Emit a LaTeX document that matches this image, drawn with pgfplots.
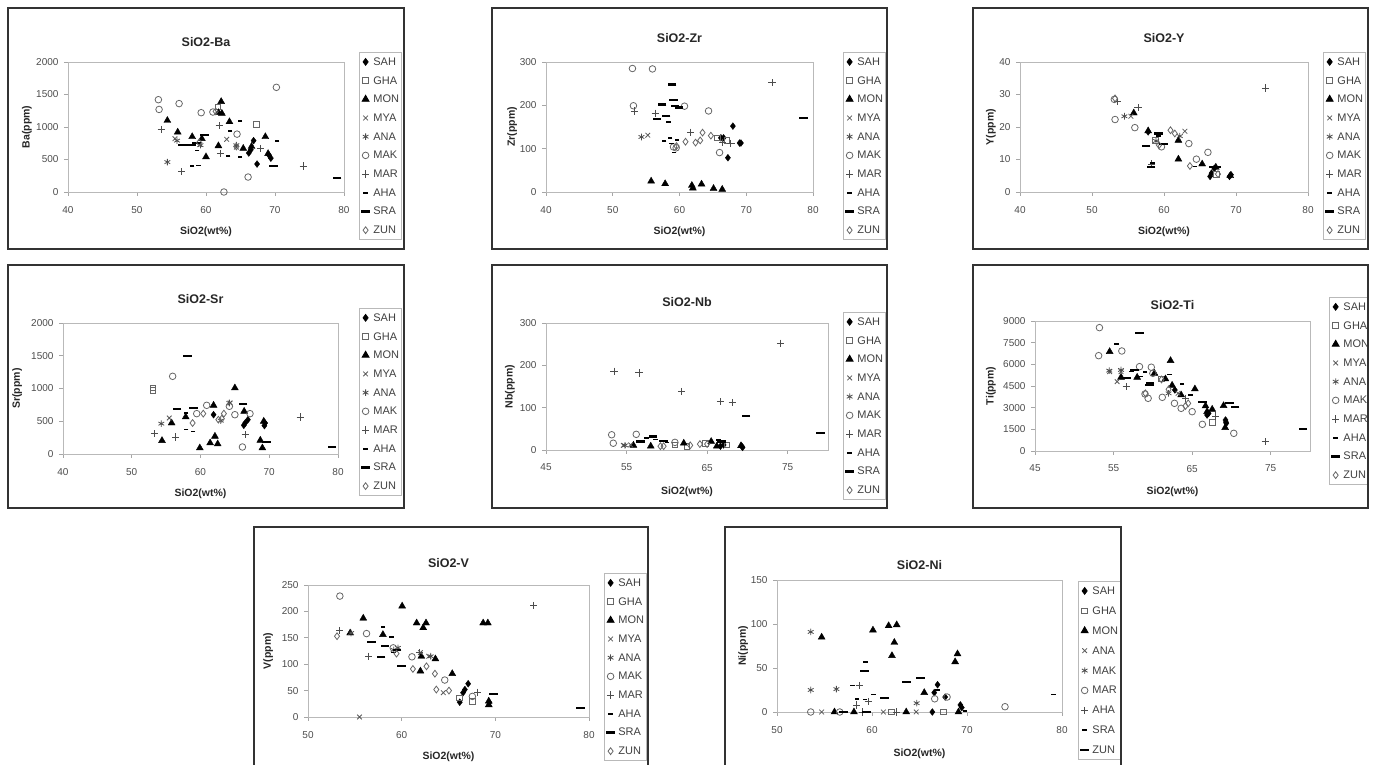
\documentclass[border=0pt]{standalone}
\usepackage{pgfplots}
\pgfplotsset{compat=1.18}
\usepackage{fontspec}
\setmainfont{Liberation Sans}

\pgfplotsset{
 panel/.style={
  scale only axis, anchor=south west,
  axis line style={gray!55,line width=0.8pt},
  every tick/.style={gray!70,line width=0.8pt},
  tick align=outside, major tick length=4pt, tick pos=left,
  ticklabel style={font=\fontsize{10}{11}\selectfont, text=black!70},
  xticklabel style={yshift=-6.5pt}, yticklabel style={xshift=-2pt},
  /pgf/number format/assume math mode=true,
  /pgf/number format/set thousands separator={},
  scaled ticks=false,
  title style={font=\bfseries\fontsize{12.5}{14}\selectfont, text=black!85, at={(axis description cs:0.5,1)}, anchor=center},
  label style={font=\bfseries\fontsize{10.5}{12}\selectfont, text=black!85},
  xlabel={SiO2(wt\%)},
  xlabel style={at={(axis description cs:0.5,0)}, anchor=center},
  clip mode=individual,
  legend cell align=left,
  legend style={anchor=north west, draw=gray!55, line width=0.8pt, fill=white,
    font=\fontsize{11}{12}\selectfont, text=black!75, inner xsep=2pt, inner ysep=2.5pt,
    row sep=4.7pt, nodes={inner sep=0.5pt, text height=10pt, text depth=3pt},
    /tikz/every odd column/.append style={column sep=3pt}},
 },
 mk/.style={only marks, legend image code/.code={\draw[mark repeat=2,mark phase=2,##1] plot coordinates {(0pt,0pt)(4pt,0pt)(8pt,0pt)};}},
 sah/.style={mk, mark=diamond*, mark size=3.4pt, color=black, fill=black},
 gha/.style={mk, mark=square, mark size=2.8pt, color=black!60, line width=0.8pt},
 mon/.style={mk, mark=triangle*, mark size=4pt, color=black, fill=black},
 mya/.style={mk, mark=x, mark size=3.3pt, color=black!65, line width=0.8pt},
 ana/.style={mk, mark=asterisk, mark size=3.3pt, color=black!70, line width=0.8pt},
 mak/.style={mk, mark=o, mark size=3.3pt, color=black!60, line width=0.8pt},
 mar/.style={mk, mark=+, mark size=3.6pt, color=black!70, line width=0.9pt},
 aha/.style={mk, mark=-, mark size=2.3pt, color=black, line width=1.6pt},
 sra/.style={mk, mark=-, mark size=4.3pt, color=black, line width=2.2pt},
 zun/.style={mk, mark=diamond, mark size=3.4pt, color=black!60, line width=0.8pt},
}

\begin{document}
\begin{tikzpicture}[x=1pt,y=1pt]
\useasboundingbox (0,0) rectangle (1374,765);

% ---------------- Panel 1: Ba
\begin{axis}[panel, at={(68pt,573pt)}, width=276pt, height=130pt,
 xmin=40,xmax=80, ymin=0,ymax=2000, xtick={40,50,...,80}, ytick={0,500,...,2000},
 title={SiO2-Ba}, title style={yshift=14pt}, xlabel style={yshift=-40pt},
 ylabel={Ba(ppm)}, ylabel style={at={(axis description cs:-0.149,0.5)},anchor=center},
 legend style={at={(1.054,1.077)}}]
\addplot[sah] coordinates {(66.2,600)(66.5,650)(66.9,790)(67.4,430)(69.1,570)(69.4,520)}; \addlegendentry{SAH}
\addplot[gha] coordinates {(67.3,1040)(61.7,1310)}; \addlegendentry{GHA}
\addplot[mon] coordinates {(54.4,1100)(55.9,920)(58.0,850)(59.4,820)(60.0,540)(61.8,710)(62.2,1390)(61.8,1220)(62.3,1210)(63.4,1080)(65.4,670)(66.6,700)(68.6,850)(69.0,590)}; \addlegendentry{MON}
\addplot[mya] coordinates {(55.5,820)(59.1,730)(63.0,810)(64.4,690)}; \addlegendentry{MYA}
\addplot[ana] coordinates {(54.4,460)(55.8,790)(59.2,720)(64.4,720)}; \addlegendentry{ANA}
\addplot[mak] coordinates {(53.1,1420)(53.2,1270)(56.1,1360)(59.3,1220)(61.0,1230)(64.5,890)(70.2,1610)(66.1,230)(62.6,0)}; \addlegendentry{MAK}
\addplot[mar] coordinates {(53.5,960)(56.5,310)(61.9,1020)(74.1,400)(67.9,670)(62.1,590)}; \addlegendentry{MAR}
\addplot[aha] coordinates {(58.0,400)(58.9,410)(63.2,550)(64.9,1090)(64.9,540)(58.7,640)(63.5,940)(70.3,780)}; \addlegendentry{AHA}
\addplot[sra] coordinates {(56.6,720)(57.2,720)(58.6,750)(59.8,880)(69.8,400)(79.0,220)(57.9,720)}; \addlegendentry{SRA}
\addplot[zun] coordinates {(64.4,700)(59.0,760)(61.4,1240)}; \addlegendentry{ZUN}
\end{axis}

% ---------------- Panel 2: Zr
\begin{axis}[panel, at={(546pt,573pt)}, width=267pt, height=130pt,
 xmin=40,xmax=80, ymin=0,ymax=300, xtick={40,50,...,80}, ytick={0,100,200,300},
 title={SiO2-Zr}, title style={yshift=18pt}, xlabel style={yshift=-40pt},
 ylabel={Zr(ppm)}, ylabel style={at={(axis description cs:-0.127,0.5)},anchor=center},
 legend style={at={(1.112,1.077)}}]
\addplot[sah] coordinates {(66.2,125)(66.6,125)(68.0,152)(67.25,79)(69.0,113)(69.2,113)}; \addlegendentry{SAH}
\addplot[gha] coordinates {(67.1,119)(65.7,125)}; \addlegendentry{GHA}
\addplot[mon] coordinates {(55.75,25)(57.85,19)(61.85,15)(62.0,9)(63.3,18)(65.1,8)(66.4,6)}; \addlegendentry{MON}
\addplot[mya] coordinates {(55.25,131)}; \addlegendentry{MYA}
\addplot[ana] coordinates {(54.3,127)}; \addlegendentry{ANA}
\addplot[mak] coordinates {(52.95,285)(55.95,284)(53.1,199)(60.75,198)(64.35,187)(59.1,104)(59.5,102)(66.0,91)}; \addlegendentry{MAK}
\addplot[mar] coordinates {(53.25,187)(56.35,182)(61.7,138)(73.85,252)(67.7,112)(66.5,115)}; \addlegendentry{MAR}
\addplot[aha] coordinates {(58.35,161)(57.7,118)(58.6,125)(59.2,91)(58.8,112)(59.6,120)}; \addlegendentry{AHA}
\addplot[sra] coordinates {(58.9,248)(59.1,212)(57.4,202)(58.0,176)(56.6,168)(59.35,198)(59.9,195)(78.6,171)}; \addlegendentry{SRA}
\addplot[zun] coordinates {(59.55,106)(60.9,116)(62.4,114)(63.1,119)(63.45,137)(64.7,130)}; \addlegendentry{ZUN}
\end{axis}

% ---------------- Panel 3: Y
\begin{axis}[panel, at={(1020pt,573pt)}, width=288pt, height=130pt,
 xmin=40,xmax=80, ymin=0,ymax=40, xtick={40,50,...,80}, ytick={0,10,...,40},
 title={SiO2-Y}, title style={yshift=18pt}, xlabel style={yshift=-40pt},
 ylabel={Y(ppm)}, ylabel style={at={(axis description cs:-0.101,0.5)},anchor=center},
 legend style={at={(1.052,1.077)}}]
\addplot[sah] coordinates {(57.8,18.5)(66.4,4.8)(66.6,5.8)(67.0,7.3)(69.3,5.3)(69.1,4.8)}; \addlegendentry{SAH}
\addplot[gha] coordinates {(58.8,15.9)(67.3,5.5)}; \addlegendentry{GHA}
\addplot[mon] coordinates {(55.8,24.3)(57.8,18.8)(62.0,15.9)(62.0,10.1)(65.3,8.6)(69.2,5.0)(67.2,7.6)}; \addlegendentry{MON}
\addplot[mya] coordinates {(55.4,23.3)(62.9,18.7)}; \addlegendentry{MYA}
\addplot[ana] coordinates {(54.5,23.3)(62.2,17.2)(58.9,15.7)}; \addlegendentry{ANA}
\addplot[mak] coordinates {(53.1,28.5)(53.2,22.3)(55.95,19.8)(66.1,12.2)(63.45,14.9)(64.5,10.1)(59.65,13.9)}; \addlegendentry{MAK}
\addplot[mar] coordinates {(53.5,27.8)(56.4,25.9)(74.1,32.0)(58.3,8.6)}; \addlegendentry{MAR}
\addplot[aha] coordinates {(58.4,9.0)(59.2,17.3)(64.3,7.8)(65.2,8.3)}; \addlegendentry{AHA}
\addplot[sra] coordinates {(57.5,14.1)(58.2,7.8)(59.9,14.7)(59.2,18.0)(66.8,7.8)(67.3,7.6)}; \addlegendentry{SRA}
\addplot[zun] coordinates {(53.2,28.8)(60.9,19.0)(61.5,18.0)(63.6,8.0)(67.5,5.5)(59.3,14.4)}; \addlegendentry{ZUN}
\end{axis}

% ---------------- Panel 4: Sr
\begin{axis}[panel, at={(63pt,311pt)}, width=275pt, height=131pt,
 xmin=40,xmax=80, ymin=0,ymax=2000, xtick={40,50,...,80}, ytick={0,500,...,2000},
 title={SiO2-Sr}, title style={yshift=18pt}, xlabel style={yshift=-40pt},
 ylabel={Sr(ppm)}, ylabel style={at={(axis description cs:-0.167,0.5)},anchor=center},
 legend style={at={(1.076,1.115)}}]
\addplot[sah] coordinates {(61.9,600)(66.3,438)(66.5,473)(66.9,524)(69.3,433)(69.4,473)}; \addlegendentry{SAH}
\addplot[gha] coordinates {(53.1,1008)(53.1,972)}; \addlegendentry{GHA}
\addplot[mon] coordinates {(54.4,204)(55.8,473)(57.85,565)(59.9,92)(61.4,168)(61.9,743)(62.1,270)(62.5,153)(65.0,1008)(66.35,651)(68.7,209)(69.2,499)(69.0,92)}; \addlegendentry{MON}
\addplot[mya] coordinates {(55.45,550)(64.3,779)}; \addlegendentry{MYA}
\addplot[ana] coordinates {(54.3,463)(64.2,779)(62.95,509)}; \addlegendentry{ANA}
\addplot[mak] coordinates {(55.95,1186)(60.9,743)(64.2,728)(66.1,107)(65.0,600)(67.2,616)(59.45,616)}; \addlegendentry{MAK}
\addplot[mar] coordinates {(53.3,310)(56.4,260)(74.5,565)(66.5,295)}; \addlegendentry{MAR}
\addplot[aha] coordinates {(57.9,371)(58.9,346)(57.9,630)}; \addlegendentry{AHA}
\addplot[sra] coordinates {(58.1,1501)(56.6,687)(58.95,702)(66.2,768)(69.6,178)(79.1,102)}; \addlegendentry{SRA}
\addplot[zun] coordinates {(58.85,473)(60.4,616)(62.6,524)(63.1,539)(63.4,616)}; \addlegendentry{ZUN}
\end{axis}

% ---------------- Panel 5: Nb
\begin{axis}[panel, at={(546pt,315pt)}, width=282pt, height=127pt,
 xmin=45,xmax=80, ymin=0,ymax=300, xtick={45,55,65,75}, ytick={0,100,200,300},
 title={SiO2-Nb}, title style={yshift=15pt}, xlabel style={yshift=-42pt},
 ylabel={Nb(ppm)}, ylabel style={at={(axis description cs:-0.128,0.5)},anchor=center},
 legend style={at={(1.053,1.087)}}]
\addplot[sah] coordinates {(66.65,9)(67.05,12)(69.3,9)(69.4,6)}; \addlegendentry{SAH}
\addplot[gha] coordinates {(67.45,12)(61.0,12)(62.5,9)(64.8,15)}; \addlegendentry{GHA}
\addplot[mon] coordinates {(55.85,11)(58.0,9)(62.1,16)(65.5,20)(66.2,9)(69.2,10)}; \addlegendentry{MON}
\addplot[mya] coordinates {(54.6,11)(55.5,12)}; \addlegendentry{MYA}
\addplot[ana] coordinates {(54.8,11)}; \addlegendentry{ANA}
\addplot[mak] coordinates {(53.15,36)(56.2,37)(53.35,16)(61.0,18)}; \addlegendentry{MAK}
\addplot[mar] coordinates {(53.45,186)(56.55,182)(61.85,138)(66.65,114)(68.1,112)(74.1,252)}; \addlegendentry{MAR}
\addplot[aha] coordinates {(57.5,28)(66.4,24)(60.0,18)(58.6,25)}; \addlegendentry{AHA}
\addplot[sra] coordinates {(69.8,80)(79.05,41)(56.7,20)(58.3,32)(59.6,21)(66.8,20)}; \addlegendentry{SRA}
\addplot[zun] coordinates {(59.2,9)(62.9,11)(64.1,14)(65.0,14)(59.6,9)}; \addlegendentry{ZUN}
\end{axis}

% ---------------- Panel 6: Ti
\begin{axis}[panel, at={(1035pt,314pt)}, width=275pt, height=130pt,
 xmin=45,xmax=80, ymin=0,ymax=9000, xtick={45,55,65,75}, ytick={0,1500,...,9000},
 title={SiO2-Ti}, title style={yshift=10pt}, xlabel style={yshift=-41pt},
 ylabel={Ti(ppm)}, ylabel style={at={(axis description cs:-0.16,0.5)},anchor=center},
 legend style={at={(1.069,1.185)}}]
\addplot[sah] coordinates {(69.25,2146)(69.35,1916)(67.1,2608)(66.9,2492)(62.8,4224)(69.3,2000)}; \addlegendentry{SAH}
\addplot[gha] coordinates {(67.55,1985)(61.05,4985)}; \addlegendentry{GHA}
\addplot[mon] coordinates {(54.5,6878)(55.95,5100)(58.0,5100)(60.2,5377)(61.6,4985)(62.25,6255)(62.45,4547)(63.6,3877)(65.35,4293)(66.7,3116)(66.9,2723)(69.0,3139)(69.2,1616)(67.55,2885)}; \addlegendentry{MON}
\addplot[mya] coordinates {(54.5,5493)(55.95,5493)(55.45,4800)(63.2,3993)}; \addlegendentry{MYA}
\addplot[ana] coordinates {(54.45,5562)(55.95,5608)(62.0,3993)}; \addlegendentry{ANA}
\addplot[mak] coordinates {(53.2,8540)(53.1,6600)(56.05,6924)(58.3,5839)(61.2,3716)(59.0,3947)(59.4,3647)(62.75,3300)(63.6,2954)(65.0,2723)(66.3,1846)(70.3,1223)(60.0,5377)(59.8,5800)}; \addlegendentry{MAK}
\addplot[mar] coordinates {(56.6,4454)(68.0,2423)(74.3,646)(64.15,3647)}; \addlegendentry{MAR}
\addplot[aha] coordinates {(55.4,7409)(57.25,5493)(58.4,5147)(62.15,5308)(63.7,4639)(64.8,3877)(59.0,5470)}; \addlegendentry{AHA}
\addplot[sra] coordinates {(58.3,8147)(57.7,5608)(56.7,5031)(59.6,4570)(59.65,4731)(66.3,3416)(69.75,3300)(70.45,3070)(79.1,1500)}; \addlegendentry{SRA}
\addplot[zun] coordinates {(59.05,3993)(64.5,3300)(64.15,3116)(62.0,4270)(61.1,4950)}; \addlegendentry{ZUN}
\end{axis}

% ---------------- Panel 7: V
\begin{axis}[panel, at={(308pt,48pt)}, width=281pt, height=132pt,
 xmin=50,xmax=80, ymin=0,ymax=250, xtick={50,60,70,80}, ytick={0,50,...,250},
 title={SiO2-V}, title style={yshift=16pt}, xlabel style={yshift=-40pt},
 ylabel={V(ppm)}, ylabel style={at={(axis description cs:-0.142,0.5)},anchor=center},
 legend style={at={(1.053,1.091)}}]
\addplot[sah] coordinates {(66.2,28)(66.75,52)(67.1,63)(66.55,46)(69.35,27)}; \addlegendentry{SAH}
\addplot[gha] coordinates {(66.15,36)(67.55,30)}; \addlegendentry{GHA}
\addplot[mon] coordinates {(55.9,187)(54.5,159)(60.05,210)(58.0,156)(61.6,178)(62.6,178)(62.3,169)(62.1,115)(62.0,87)(63.6,110)(65.4,82)(68.7,178)(69.2,178)(69.3,30)(69.3,23)}; \addlegendentry{MON}
\addplot[mya] coordinates {(55.5,0)(62.0,122)(62.9,115)(64.45,46)}; \addlegendentry{MYA}
\addplot[ana] coordinates {(54.6,159)(59.15,127)(59.6,131)(63.1,115)}; \addlegendentry{ANA}
\addplot[mak] coordinates {(53.4,229)(56.25,158)(61.1,114)(64.6,70)(59.1,131)(67.55,39)}; \addlegendentry{MAK}
\addplot[mar] coordinates {(53.4,164)(56.5,115)(68.1,47)(74.1,211)(61.9,122)}; \addlegendentry{MAR}
\addplot[aha] coordinates {(58.0,171)(58.9,152)(58.3,135)(59.15,122)}; \addlegendentry{AHA}
\addplot[sra] coordinates {(56.8,142)(57.8,113)(60.0,96)(58.2,134)(59.5,127)(69.8,44)(79.1,17)}; \addlegendentry{SRA}
\addplot[zun] coordinates {(53.1,153)(61.2,91)(62.65,96)(63.55,82)(63.7,52)(65.05,50)(59.45,120)}; \addlegendentry{ZUN}
\end{axis}

% ---------------- Panel 8: Ni
\begin{axis}[panel, at={(777pt,53pt)}, width=285pt, height=132pt,
 xmin=50,xmax=80, ymin=0,ymax=150, xtick={50,60,70,80}, ytick={0,50,100,150},
 title={SiO2-Ni}, title style={yshift=9pt}, xlabel style={yshift=-42pt},
 ylabel={Ni(ppm)}, ylabel style={at={(axis description cs:-0.119,0.5)},anchor=center},
 legend style={at={(1.056,0.992)}, row sep=5.9pt}]
\addplot[sah] coordinates {(66.9,31)(66.55,22)(67.7,17)(69.3,8)(69.45,5)(66.35,0)}; \addlegendentry{SAH}
\addplot[gha] coordinates {(62.05,0)(67.5,0)}; \addlegendentry{GHA}
\addplot[mon] coordinates {(54.7,85)(60.1,93)(61.75,98)(62.6,99)(62.35,79)(62.1,64)(65.5,22)(68.75,57)(69.0,66)(56.05,0)(58.1,0)(63.6,0)(69.1,0)}; \addlegendentry{MON}
\addplot[mya] coordinates {(54.7,0)(61.2,0)(64.65,0)}; \addlegendentry{ANA}
\addplot[ana] coordinates {(53.55,91)(53.55,25)(56.25,26)(64.7,10)}; \addlegendentry{MAK}
\addplot[mak] coordinates {(53.55,0)(56.6,0)(67.9,17)(74.0,6)(66.6,15)}; \addlegendentry{MAR}
\addplot[mar] coordinates {(58.65,30)(58.4,8)(59.0,0)(59.6,12)(62.6,0)}; \addlegendentry{AHA}
\addplot[aha] coordinates {(57.95,30)(59.3,57)(58.4,15)(60.15,20)(59.25,14)(79.1,20)(66.9,25)(69.8,1)}; \addlegendentry{SRA}
\addplot[sra] coordinates {(59.2,47)(63.65,34)(65.1,39)(61.3,16)(57.0,0)(59.4,0)}; \addlegendentry{ZUN}
\end{axis}

% cover legend overflow on right edge of Ti panel
\fill[white] (1369.3,250) rectangle (1380,505);

% panel frames
\begin{scope}[line width=2.6pt, draw=black!80]
\draw (8,757) rectangle (404,516);
\draw (492,757) rectangle (887,516);
\draw (973,757) rectangle (1368,516);
\draw (8,500) rectangle (404,257);
\draw (492,500) rectangle (887,257);
\draw (973,500) rectangle (1368,257);
\draw (254,238) rectangle (648,-20);
\draw (725,238) rectangle (1121,-20);
\end{scope}
\end{tikzpicture}
\end{document}
